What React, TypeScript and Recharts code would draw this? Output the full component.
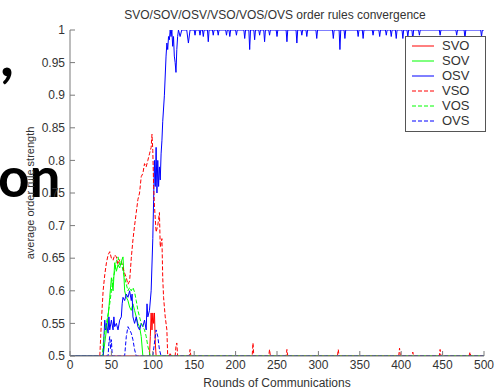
import React from 'react';
import { LineChart, Line, XAxis, YAxis, CartesianGrid, Label } from 'recharts';

type Pair = [number, number];

const ROUND_TICKS = [0, 50, 100, 150, 200, 250, 300, 350, 400, 450, 500];
const STRENGTH_TICKS = [0.5, 0.55, 0.6, 0.65, 0.7, 0.75, 0.8, 0.85, 0.9, 0.95, 1];

// [round, average strength]
const SVO: Pair[] = [
  [0, 0.5], [96, 0.5], [97, 0.53], [98, 0.566], [99, 0.54], [100, 0.566], [101, 0.55], [102, 0.566],
  [103, 0.52], [104, 0.5], [500, 0.5],
];

const SOV: Pair[] = [
  [0, 0.5], [40, 0.5], [42, 0.52], [44, 0.54], [46, 0.56], [48, 0.59], [50, 0.62], [52, 0.6],
  [54, 0.643], [56, 0.63], [58, 0.64], [60, 0.635], [62, 0.645], [64, 0.652], [66, 0.6], [68, 0.59],
  [70, 0.585], [72, 0.575], [74, 0.57], [76, 0.58], [78, 0.57], [80, 0.56], [82, 0.55], [84, 0.545],
  [86, 0.53], [88, 0.5], [500, 0.5],
];

const OSV: Pair[] = [
  [0, 0.5], [40, 0.5], [41, 0.53], [42, 0.555], [43, 0.54], [44, 0.55], [46, 0.535], [47, 0.56],
  [48, 0.54], [50, 0.555], [52, 0.54], [53, 0.56], [54, 0.545], [56, 0.55], [58, 0.54], [60, 0.555],
  [62, 0.56], [63, 0.58], [64, 0.59], [66, 0.585], [68, 0.595], [70, 0.59], [72, 0.6], [74, 0.585],
  [75, 0.595], [76, 0.56], [78, 0.55], [80, 0.56], [82, 0.545], [84, 0.54], [86, 0.55], [88, 0.545],
  [90, 0.555], [92, 0.54], [93, 0.58], [94, 0.56], [96, 0.57], [98, 0.6], [100, 0.68], [101, 0.74],
  [102, 0.8], [103, 0.76], [104, 0.82], [105, 0.75], [106, 0.8], [107, 0.76], [108, 0.79], [109, 0.77],
  [110, 0.81], [111, 0.83], [112, 0.86], [114, 0.9], [116, 0.96], [117, 0.98], [118, 0.97], [119, 0.99],
  [120, 0.985], [121, 1], [122, 0.99], [123, 1], [124, 0.975], [125, 0.99], [126, 0.96], [127, 0.95],
  [128, 0.935], [129, 0.97], [130, 0.99], [131, 1], [133, 0.99], [135, 1],
  [141, 1], [143, 0.98], [145, 1], [150, 1], [151, 0.992], [152, 1], [156, 1], [157, 0.992], [158, 1],
  [160, 1], [161, 0.99], [162, 1], [166, 1], [167, 0.982], [168, 1], [172, 1], [173, 0.992], [174, 1],
  [178, 1], [179, 0.992], [180, 1], [188, 1], [189, 0.992], [190, 1], [192, 1], [193, 0.99], [194, 1],
  [200, 1], [201, 0.992], [202, 1], [210, 1], [211, 0.987], [212, 1], [216, 1], [217, 0.97], [218, 1],
  [222, 1], [223, 0.985], [224, 1], [228, 1], [229, 0.992], [230, 1], [234, 1], [235, 0.982], [236, 1],
  [240, 1], [241, 0.992], [242, 1], [249, 1], [250, 0.99], [251, 1], [261, 1], [262, 0.982], [263, 1],
  [273, 1], [274, 0.98], [275, 1], [279, 1], [280, 0.992], [281, 1], [285, 1], [286, 0.99], [287, 1],
  [297, 1], [298, 0.987], [299, 1], [317, 1], [318, 0.987], [319, 1], [325, 1], [326, 0.97], [327, 1],
  [331, 1], [332, 0.987], [333, 1], [347, 1], [348, 0.99], [349, 1], [353, 1], [354, 0.987], [355, 1],
  [365, 1], [366, 0.992], [367, 1], [373, 1], [374, 0.99], [375, 1], [381, 1], [382, 0.992], [383, 1],
  [387, 1], [388, 0.99], [389, 1], [393, 1], [394, 0.987], [395, 1], [401, 1], [402, 0.987], [403, 1],
  [407, 1], [408, 0.99], [409, 1], [413, 1], [414, 0.985], [415, 1], [421, 1], [422, 0.992], [423, 1],
  [446, 1], [447, 0.992], [448, 1], [466, 1], [467, 0.992], [468, 1], [476, 1], [477, 0.987], [478, 1],
  [496, 1], [497, 0.99], [498, 1], [500, 1],
];

const VSO: Pair[] = [
  [0, 0.5], [36, 0.5], [38, 0.555], [40, 0.6], [42, 0.625], [44, 0.643], [46, 0.655], [48, 0.66],
  [50, 0.65], [52, 0.647], [54, 0.655], [56, 0.652], [58, 0.64], [60, 0.648], [62, 0.645], [64, 0.635],
  [66, 0.627], [68, 0.62], [70, 0.61], [72, 0.615], [74, 0.65], [76, 0.678], [78, 0.7], [80, 0.72],
  [82, 0.74], [84, 0.75], [86, 0.775], [88, 0.78], [90, 0.795], [92, 0.79], [94, 0.8], [96, 0.81],
  [98, 0.82], [99, 0.84], [100, 0.815], [101, 0.76], [102, 0.73], [103, 0.71], [104, 0.69], [106, 0.7],
  [108, 0.72], [109, 0.667], [111, 0.68], [112, 0.62], [113, 0.59], [115, 0.56], [117, 0.54], [118, 0.5],
  [120, 0.5], [121, 0.505], [122, 0.5], [127, 0.5], [128, 0.515], [129, 0.52], [130, 0.5], [144, 0.5],
  [145, 0.51], [146, 0.5], [220, 0.5], [221, 0.52], [222, 0.5], [240, 0.5], [241, 0.51], [242, 0.5],
  [261, 0.5], [262, 0.51], [263, 0.5], [323, 0.5], [324, 0.51], [325, 0.5], [397, 0.5], [398, 0.512],
  [399, 0.5], [413, 0.5], [414, 0.506], [415, 0.5], [446, 0.5], [447, 0.51], [448, 0.5], [482, 0.5],
  [483, 0.506], [484, 0.5], [500, 0.5],
];

const VOS: Pair[] = [
  [0, 0.5], [39, 0.5], [41, 0.53], [44, 0.55], [46, 0.565], [48, 0.58], [50, 0.6], [52, 0.617],
  [54, 0.63], [56, 0.645], [58, 0.652], [60, 0.64], [62, 0.645], [64, 0.63], [66, 0.62], [68, 0.61],
  [70, 0.6], [72, 0.605], [74, 0.6], [76, 0.605], [78, 0.598], [80, 0.585], [82, 0.57], [84, 0.56],
  [86, 0.55], [88, 0.545], [90, 0.54], [92, 0.53], [94, 0.515], [96, 0.505], [97, 0.5], [500, 0.5],
];

const OVS: Pair[] = [
  [0, 0.5], [46, 0.5], [47, 0.52], [48, 0.53], [49, 0.51], [50, 0.525], [51, 0.5], [66, 0.5],
  [68, 0.53], [70, 0.545], [72, 0.54], [74, 0.535], [76, 0.525], [78, 0.51], [80, 0.5], [100, 0.5],
  [102, 0.52], [104, 0.54], [106, 0.53], [108, 0.51], [110, 0.5], [500, 0.5],
];

const SERIES = [
  { name: 'SVO', values: SVO, color: '#ff0000', dash: undefined },
  { name: 'SOV', values: SOV, color: '#00ff00', dash: undefined },
  { name: 'OSV', values: OSV, color: '#0000ff', dash: undefined },
  { name: 'VSO', values: VSO, color: '#ff0000', dash: '4 2' },
  { name: 'VOS', values: VOS, color: '#00ff00', dash: '4 2' },
  { name: 'OVS', values: OVS, color: '#0000ff', dash: '4 2' },
];

const toPoints = (pairs: Pair[]) => pairs.map(([round, strength]) => ({ round, strength }));

const FONT = '"Liberation Sans", Arial, sans-serif';
const AXIS = '#7a7a7a';
const tickStyle = { fontSize: 12, fill: '#333', fontFamily: FONT };

const YLabel = () => (
  <text
    x={30}
    y={193}
    transform="rotate(-90, 30, 193)"
    textAnchor="middle"
    dominantBaseline="central"
    fontSize={11}
    fill="#333"
    fontFamily={FONT}
  >
    average order rule strength
  </text>
);

export default function App() {
  return (
    <div style={{ position: 'absolute', left: 0, top: 0, width: 499, height: 390, background: '#fff', overflow: 'hidden' }}>
      {/* slide text showing behind the figure */}
      <svg width={499} height={390} style={{ position: 'absolute', left: 0, top: 0 }}>
        <text x={0} y={76} fontSize={60} fontWeight={700} fontFamily="Lato, sans-serif" fill="#000">,</text>
        <text x={-2} y={197} fontSize={55} fontWeight={700} fontFamily="Lato, sans-serif" fill="#000">on</text>
      </svg>

      <div style={{ position: 'absolute', left: 0, top: 8, width: 550, textAlign: 'center', fontFamily: FONT, fontSize: 12, color: '#333', lineHeight: '14px' }}>
        SVO/SOV/OSV/VSO/VOS/OVS order rules convergence
      </div>

      <div style={{ position: 'absolute', left: 0, top: 0 }}>
        <LineChart width={499} height={390} margin={{ top: 30, right: 15, bottom: 0, left: 0 }}>
          <CartesianGrid horizontal={false} vertical={false} fill="#fff" />
          <XAxis
            dataKey="round"
            type="number"
            domain={[0, 500]}
            ticks={ROUND_TICKS}
            allowDataOverflow
            height={34}
            tickSize={-5}
            tickMargin={9}
            tick={tickStyle}
            stroke={AXIS}
          >
            <Label value="Rounds of Communications" position="insideBottom" offset={3} fontSize={12} fill="#333" fontFamily={FONT} />
          </XAxis>
          <XAxis
            xAxisId="top"
            orientation="top"
            type="number"
            domain={[0, 500]}
            ticks={ROUND_TICKS}
            allowDataOverflow
            height={0}
            tickSize={-5}
            tick={false}
            stroke={AXIS}
          />
          <YAxis
            type="number"
            domain={[0.5, 1]}
            ticks={STRENGTH_TICKS}
            allowDataOverflow
            width={70}
            tickSize={-5}
            tickMargin={10}
            tick={tickStyle}
            stroke={AXIS}
            label={<YLabel />}
          />
          <YAxis
            yAxisId="right"
            orientation="right"
            type="number"
            domain={[0.5, 1]}
            ticks={STRENGTH_TICKS}
            allowDataOverflow
            width={0}
            tickSize={-5}
            tick={false}
            stroke={AXIS}
          />
          {SERIES.map((s) => (
            <Line
              key={s.name}
              data={toPoints(s.values)}
              dataKey="strength"
              name={s.name}
              type="linear"
              stroke={s.color}
              strokeWidth={1}
              strokeDasharray={s.dash}
              dot={false}
              activeDot={false}
              isAnimationActive={false}
            />
          ))}
        </LineChart>
      </div>

      <div
        style={{
          position: 'absolute',
          left: 405,
          top: 36,
          width: 81,
          height: 96,
          background: '#fff',
          border: '1px solid #555',
          fontFamily: FONT,
          fontSize: 13,
          color: '#333',
          paddingTop: 1,
          boxSizing: 'border-box',
        }}
      >
        {SERIES.map((s) => (
          <div key={s.name} style={{ display: 'flex', alignItems: 'center', height: 15 }}>
            <svg width={36} height={4} style={{ flex: 'none' }}>
              <line x1={6} x2={28} y1={2} y2={2} stroke={s.color} strokeWidth={1} strokeDasharray={s.dash} />
            </svg>
            <span>{s.name}</span>
          </div>
        ))}
      </div>
    </div>
  );
}
